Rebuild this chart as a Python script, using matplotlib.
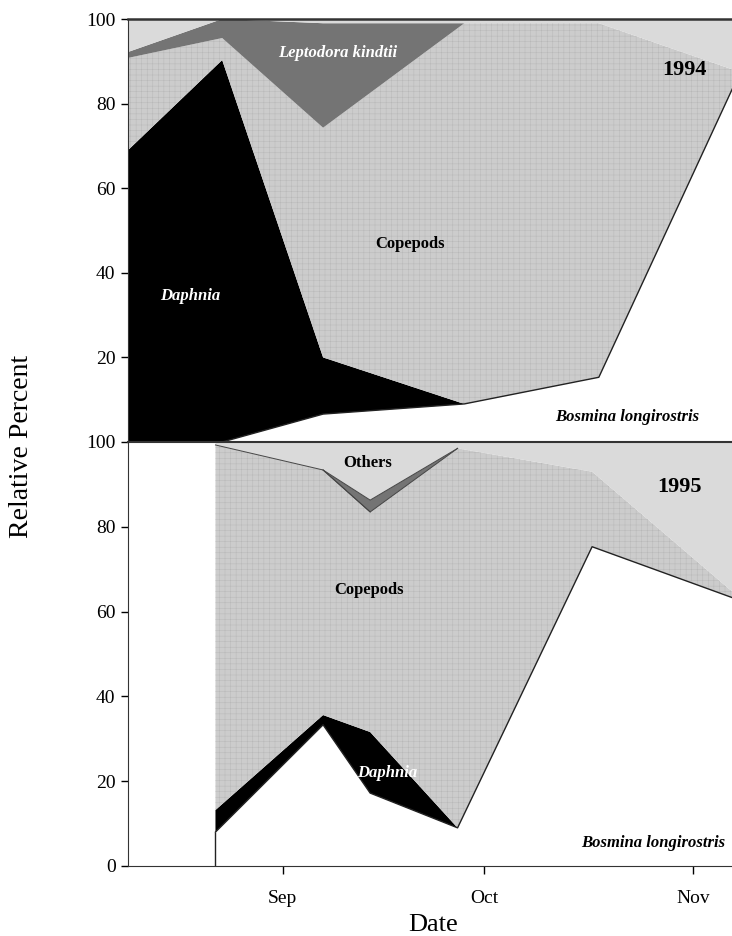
import numpy as np
import matplotlib.pyplot as plt

plt.rcParams['font.family'] = ['Liberation Serif', 'DejaVu Serif']
plt.rcParams['hatch.linewidth'] = 0.35

# days counted from 1 September; relative percent of each taxon
days94 = [-23, -9, 6, 27, 47, 67]
bosmina94 = [0, 0, 6.6, 9, 15.3, 84]
daphnia94 = [69, 90.3, 13.4, 0, 0, 0]
copepods94 = [21.8, 5.2, 54.3, 90, 83.7, 4]
leptodora94 = [1.4, 4.5, 24.7, 0, 0, 0]
others94 = [7.8, 0, 1, 1, 1, 12]

days95 = [-10, 6, 13, 26, 46, 67]
bosmina95 = [8, 33.3, 17.2, 9, 75.3, 63.2]
daphnia95 = [5.2, 2.3, 14.4, 0, 0, 0]
copepods95 = [86.1, 57.8, 51.9, 89.5, 17.7, 1.3]
leptodora95 = [0, 0, 2.8, 0, 0, 0]
others95 = [0.7, 6.6, 13.7, 1.5, 7, 35.5]

month_ticks = [0, 30, 61]
month_labels = ['Sep', 'Oct', 'Nov']

faces = ['white', 'black', '#cccccc', '#747474', '#dadada']
hatches = [None, None, '+++', None, None]
hatch_cols = ['none', 'none', '#b8b8b8', 'none', 'none']


def stack(ax, days, layers):
    base = np.zeros(len(days))
    tops = []
    for vals, fc, h, hc in zip(layers, faces, hatches, hatch_cols):
        top = base + np.array(vals)
        ax.fill_between(days, base, top, facecolor=fc, edgecolor=hc,
                        hatch=h, linewidth=0)
        tops.append(top)
        base = top
    return tops


def style(ax, yticks):
    ax.set_xlim(-23, 66.8)
    ax.set_ylim(0, 100)
    ax.set_yticks(yticks)
    ax.spines['right'].set_visible(False)
    for s in ax.spines.values():
        s.set_color('#333333')
    ax.tick_params(axis='y', direction='out', length=5, width=1,
                   labelsize=14, pad=4)


fig = plt.figure(figsize=(7.32, 9.36), dpi=100)
ax1 = fig.add_axes([0.1749, 0.52778, 0.8251, 0.45192])
ax2 = fig.add_axes([0.1749, 0.07479, 0.8251, 0.45299])

# 1994
stack(ax1, days94, [bosmina94, daphnia94, copepods94, leptodora94, others94])
ax1.plot(days94, bosmina94, color='#222222', lw=1)
style(ax1, [20, 40, 60, 80, 100])
ax1.spines['bottom'].set_visible(False)
ax1.spines['top'].set_linewidth(1.8)
ax1.set_xticks([])

lab = dict(fontsize=12, fontweight='bold', ha='center', va='center')
ax1.text(8.2, 92, 'Leptodora kindtii', color='white', style='italic', **lab)
ax1.text(18.9, 46.7, 'Copepods', color='black', **lab)
ax1.text(-13.8, 34.4, 'Daphnia', color='white', style='italic', **lab)
ax1.text(51.2, 5.9, 'Bosmina longirostris', color='black', style='italic', **lab)
ax1.text(59.7, 88, '1994', fontsize=16, fontweight='bold', ha='center', va='center')

# 1995
tops95 = stack(ax2, days95, [bosmina95, daphnia95, copepods95, leptodora95, others95])
ax2.plot(days95, bosmina95, color='#222222', lw=1)
ax2.vlines(days95[0], 0, bosmina95[0], color='#222222', lw=1)
ax2.plot(days95[:3], tops95[2][:3], color='#444444', lw=0.7)
ax2.plot(days95[1:4], tops95[3][1:4], color='#444444', lw=0.7)
ax2.plot(days95[1:4], tops95[2][1:4], color='#444444', lw=0.7)
style(ax2, [0, 20, 40, 60, 80, 100])
ax2.spines['top'].set_linewidth(1.5)
ax2.set_xticks(month_ticks, month_labels)
ax2.tick_params(axis='x', direction='out', length=6, width=1,
                labelsize=14, pad=11)

ax2.text(12.6, 95.0, 'Others', color='black', **lab)
ax2.text(12.9, 65.1, 'Copepods', color='black', **lab)
ax2.text(15.5, 21.9, 'Daphnia', color='white', style='italic', **lab)
ax2.text(55.1, 5.4, 'Bosmina longirostris', color='black', style='italic', **lab)
ax2.text(59, 89.4, '1995', fontsize=16, fontweight='bold', ha='center', va='center')

fig.text(22 / 732, 1 - 446 / 936, 'Relative Percent', rotation=90,
         fontsize=20, ha='center', va='center')
fig.text(433 / 732, 1 - 925 / 936, 'Date', fontsize=19, ha='center', va='center')

fig.savefig('out.png', dpi=100)
